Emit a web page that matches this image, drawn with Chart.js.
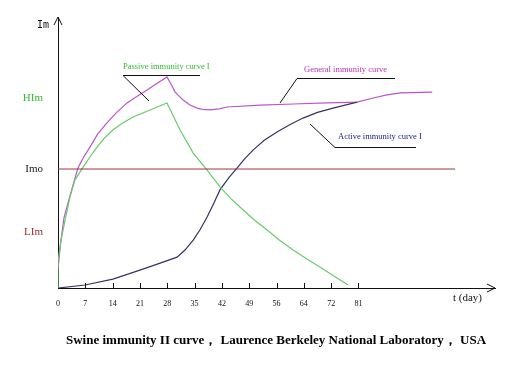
<!DOCTYPE html>
<html>
<head>
<meta charset="utf-8">
<script src="https://cdn.jsdelivr.net/npm/chart.js@4.4.0/dist/chart.umd.min.js"></script>
<style>
  body { margin: 0; background: #fff; }
  #wrap { width: 532px; height: 370px; }
</style>
</head>
<body>
<div id="wrap"><canvas id="myChart" width="532" height="370"></canvas></div>
<script>
// x positions are tick slots (0 = day 0, 1 = day 7, ...), y is relative immunity level
const xTickLabels = ['0', '7', '14', '21', '28', '35', '42', '49', '56', '64', '72', '81'];
const yTickValues = [20.7, 43.9, 70];
const yTickLabels = ['LIm', 'Imo', 'HIm'];
const yTickColors = ['#a03030', '#222222', '#33bb33'];

const passiveX = [0, 0, 0.1, 0.26, 0.44, 0.62, 0.92, 1.2, 1.43, 1.7, 2.01, 2.35, 2.75, 3.37, 3.99, 4.47, 4.95, 5.46, 5.93, 6.35, 6.78, 7.2, 7.66, 8.1, 8.61, 9.1, 9.60, 10.1, 10.62];
const passiveY = [0, 9.6, 17, 25.1, 33.6, 39.9, 44.6, 48.8, 52.0, 55.3, 58.3, 60.8, 63.1, 65.7, 68.3, 58.3, 49.8, 43.5, 37.3, 32.8, 28.8, 25.0, 21.4, 17.7, 14.0, 10.8, 7.7, 4.4, 1.1];

const generalX = [0, 0.1, 0.22, 0.50, 0.73, 0.95, 1.17, 1.45, 1.79, 2.15, 2.53, 2.9, 3.26, 3.62, 3.99, 4.15, 4.29, 4.45, 4.58, 4.8, 5.09, 5.3, 5.57, 5.9, 6.19, 7.40, 8.61, 9.85, 10.95, 11.54, 12.0, 12.53, 13.70];
const generalY = [7, 17, 26, 36.2, 44.3, 48.5, 52.0, 56.8, 60.9, 64.8, 68.3, 70.8, 73.1, 75.5, 77.9, 75.0, 72.3, 70.6, 69.4, 67.7, 66.4, 65.9, 65.7, 66.1, 66.8, 67.5, 67.9, 68.3, 68.6, 70.1, 71.2, 72.0, 72.3];

const activeX = [0, 0.99, 2.01, 3.00, 3.74, 4.36, 4.65, 4.95, 5.2, 5.46, 5.7, 5.93, 6.25, 6.56, 6.85, 7.14, 7.55, 8.02, 8.5, 8.97, 9.5, 10.07, 10.95];
const activeY = [0, 1.1, 3.3, 6.6, 9.2, 11.4, 14.0, 17.7, 21.5, 26.2, 31.2, 36.2, 40.6, 44.3, 47.8, 50.9, 54.5, 57.6, 60.3, 62.7, 64.8, 66.4, 68.6];

const imoX = [0, 14.54];
const imoY = [43.9, 43.9];

function pts(xs, ys) {
    return xs.map((x, i) => ({ x: x, y: ys[i] }));
}

const serif = '"Liberation Serif", "Times New Roman", serif';

// axis arrows, tick marks, annotations and caption
const decor = {
    id: 'decor',
    afterDraw(chart) {
        const c = chart.ctx;
        const a = chart.chartArea;
        const xs = chart.scales.x;
        c.save();
        c.strokeStyle = '#111';
        c.lineWidth = 1;

        // arrows
        c.beginPath();
        c.moveTo(a.left - 4, a.top + 8); c.lineTo(a.left, a.top); c.lineTo(a.left + 4, a.top + 8);
        c.moveTo(a.right - 8, a.bottom - 4); c.lineTo(a.right, a.bottom); c.lineTo(a.right - 8, a.bottom + 4);
        c.stroke();

        // tick marks pointing up
        c.beginPath();
        for (let i = 1; i < xTickLabels.length; i++) {
            const px = Math.round(xs.getPixelForValue(i)) + 0.5;
            c.moveTo(px, a.bottom); c.lineTo(px, a.bottom - 5);
        }
        c.stroke();

        c.fillStyle = '#111';
        c.font = '10px "DejaVu Sans Mono", monospace';
        c.textBaseline = 'middle';
        c.fillText('Im', 37, 25);
        c.font = '11px ' + serif;
        c.fillText('t (day)', 453, 298);

        // annotations: label, underline, leader line
        const notes = [
            { t: 'Passive immunity curve I', col: '#33bb33', tx: 123, ty: 67, ly: 75, lx2: 200, px: 149, py: 101 },
            { t: 'General immunity curve', col: '#bb33bb', tx: 304, ty: 70, ly: 78, lx2: 395, px: 280, py: 103, lx1: 297 },
            { t: 'Active immunity curve I', col: '#222288', tx: 338, ty: 137, ly: 147, lx2: 416, px: 310, py: 124, lx1: 335 }
        ];
        c.font = '8.5px ' + serif;
        notes.forEach(n => {
            const lx1 = n.lx1 || n.tx;
            c.fillStyle = n.col;
            c.fillText(n.t, n.tx, n.ty);
            c.beginPath();
            c.moveTo(lx1, n.ly + 0.5); c.lineTo(n.lx2, n.ly + 0.5);
            c.moveTo(lx1, n.ly + 0.5); c.lineTo(n.px, n.py);
            c.stroke();
        });

        // caption
        c.fillStyle = '#000';
        c.font = 'bold 13px ' + serif;
        c.textAlign = 'center';
        c.fillText('Swine immunity II curve\uFF0C Laurence Berkeley National Laboratory\uFF0C USA', 276, 341);
        c.restore();
    }
};

const ctx = document.getElementById('myChart').getContext('2d');
new Chart(ctx, {
    type: 'line',
    data: {
        datasets: [
            { data: pts(imoX, imoY), borderColor: '#9b3535', borderWidth: 1, pointRadius: 0 },
            { data: pts(passiveX, passiveY), borderColor: '#66cc66', borderWidth: 1.2, pointRadius: 0 },
            { data: pts(activeX, activeY), borderColor: '#333366', borderWidth: 1.2, pointRadius: 0 },
            { data: pts(generalX, generalY), borderColor: '#bb55cc', borderWidth: 1.2, pointRadius: 0 }
        ]
    },
    options: {
        responsive: false,
        animation: false,
        layout: { padding: { top: 17, right: 37, bottom: 62, left: 0 } },
        plugins: { legend: { display: false }, tooltip: { enabled: false } },
        scales: {
            x: {
                type: 'linear',
                min: 0,
                max: 16,
                afterBuildTicks: s => { s.ticks = xTickLabels.map((l, i) => ({ value: i })); },
                afterFit: s => { s.height = 20; },
                grid: { display: false },
                border: { display: true, color: '#111', width: 1 },
                ticks: {
                    callback: (v, i) => xTickLabels[i],
                    color: '#111',
                    padding: 3,
                    maxRotation: 0,
                    autoSkip: false,
                    font: { family: serif, size: 8 }
                }
            },
            y: {
                min: 0,
                max: 100,
                afterBuildTicks: s => { s.ticks = yTickValues.map(v => ({ value: v })); },
                afterFit: s => { s.width = 58; },
                grid: { display: false },
                border: { display: true, color: '#111', width: 1 },
                ticks: {
                    callback: (v, i) => yTickLabels[i],
                    color: c => yTickColors[c.index],
                    padding: 7,
                    font: { family: serif, size: 11 }
                }
            }
        }
    },
    plugins: [decor]
});
</script>
</body>
</html>
